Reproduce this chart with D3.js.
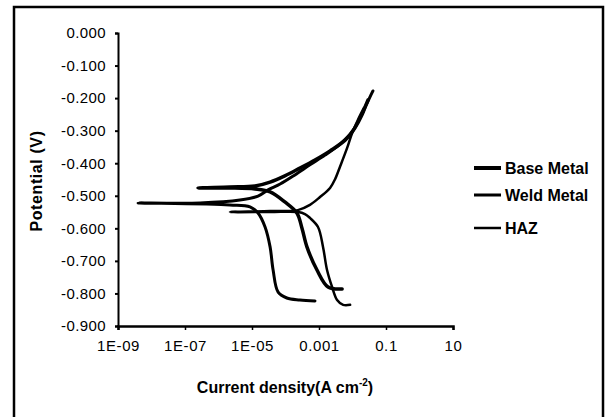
<!DOCTYPE html>
<html><head><meta charset="utf-8">
<script src="https://cdn.jsdelivr.net/npm/d3@7/dist/d3.min.js"></script>
<style>body{margin:0;background:#fff}svg{display:block}</style>
</head><body>
<svg id="c" width="606" height="417"></svg>
<script>
// ---- data (log10 of current density, A cm^-2; potential V) ----
const seriesNames = ["Base Metal", "Weld Metal", "HAZ"];
const baseLogI = [-2.31,-2.73,-3.06,-3.36,-3.51,-3.66,-4.02,-4.46,-4.91,-5.66,-6.61,-5.66,-4.91,-4.46,-4.02,-3.57,-3.12,-2.67,-2.22,-1.93,-1.72,-1.60,-1.54];
const baseE    = [-0.786,-0.780,-0.728,-0.657,-0.599,-0.553,-0.519,-0.488,-0.479,-0.476,-0.476,-0.473,-0.470,-0.458,-0.439,-0.415,-0.390,-0.362,-0.329,-0.292,-0.252,-0.221,-0.206];
const weldLogI = [-3.12,-3.57,-3.96,-4.22,-4.37,-4.46,-4.61,-4.82,-5.06,-5.66,-8.40,-6.55,-5.36,-4.82,-4.52,-4.16,-3.72,-3.27,-2.82,-2.37,-2.01,-1.78,-1.60,-1.48,-1.39];
const weldE    = [-0.823,-0.820,-0.814,-0.796,-0.728,-0.657,-0.596,-0.553,-0.534,-0.528,-0.522,-0.522,-0.513,-0.501,-0.482,-0.464,-0.436,-0.405,-0.375,-0.341,-0.304,-0.261,-0.224,-0.197,-0.178];
const hazLogI  = [-2.07,-2.28,-2.46,-2.61,-2.76,-2.88,-3.03,-3.27,-3.42,-3.63,-4.46,-5.66,-4.46,-3.63,-3.27,-2.97,-2.67,-2.52,-2.37,-2.16,-2.01,-1.84,-1.66];
const hazE     = [-0.835,-0.835,-0.820,-0.780,-0.728,-0.657,-0.596,-0.568,-0.556,-0.550,-0.550,-0.550,-0.547,-0.544,-0.528,-0.504,-0.476,-0.449,-0.410,-0.353,-0.307,-0.267,-0.230];
const yTicks = [0,-0.1,-0.2,-0.3,-0.4,-0.5,-0.6,-0.7,-0.8,-0.9];
const yTickLabels = ["0.000","-0.100","-0.200","-0.300","-0.400","-0.500","-0.600","-0.700","-0.800","-0.900"];
const xTicks = [1e-9,1e-7,1e-5,1e-3,1e-1,10];
const xTickLabels = ["1E-09","1E-07","1E-05","0.001","0.1","10"];

const svg = d3.select("#c");
const font = "'Liberation Sans', Arial, sans-serif";

// outer frame
svg.append("rect").attr("x",14).attr("y",7).attr("width",589).attr("height",420)
  .attr("fill","none").attr("stroke","#000").attr("stroke-width",2.5);

const x = d3.scaleLog().domain([1e-9,10]).range([118,453]);
const y = d3.scaleLinear().domain([-0.9,0]).range([326,33]);

// y axis
const ya = svg.append("g").attr("transform","translate(118,0)")
  .call(d3.axisLeft(y).tickValues(yTicks).tickSize(3).tickPadding(9).tickFormat((d,i)=>yTickLabels[i]));
ya.select(".domain").attr("stroke-width",2);
ya.selectAll("text").attr("font-family",font).attr("font-size",15).attr("letter-spacing",0.4).attr("fill","#000");
ya.selectAll("line").attr("stroke-width",2);

// x axis
const xa = svg.append("g").attr("transform","translate(0,326)")
  .call(d3.axisBottom(x).tickValues(xTicks).tickSize(4).tickPadding(10).tickFormat((d,i)=>xTickLabels[i]));
xa.select(".domain").attr("stroke-width",2.5);
xa.selectAll("text").attr("font-family",font).attr("font-size",15).attr("letter-spacing",0.6).attr("fill","#000");
xa.selectAll("line").attr("stroke-width",1.5);

// axis titles
const xt = svg.append("text").attr("x",285).attr("y",393).attr("text-anchor","middle")
  .attr("font-family",font).attr("font-size",16).attr("font-weight","bold");
xt.append("tspan").text("Current density(A cm");
xt.append("tspan").attr("font-size",10).attr("dy",-7).text("-2");
xt.append("tspan").attr("dy",7).text(")");

svg.append("text").attr("transform","translate(42,181) rotate(-90)").attr("text-anchor","middle")
  .attr("font-family",font).attr("font-size",16).attr("font-weight","bold").attr("letter-spacing",0.6).text("Potential (V)");

// curves
const line = d3.line().x(d=>x(Math.pow(10,d[0]))).y(d=>y(d[1])).curve(d3.curveCatmullRom.alpha(0.5));
const series = [
  {name:seriesNames[0], pts:d3.zip(baseLogI,baseE), w:3.5},
  {name:seriesNames[1], pts:d3.zip(weldLogI,weldE), w:3},
  {name:seriesNames[2], pts:d3.zip(hazLogI,hazE), w:2.5}
];
svg.append("g").selectAll("path").data(series).join("path")
  .attr("d",d=>line(d.pts)).attr("fill","none").attr("stroke","#000")
  .attr("stroke-width",d=>d.w).attr("stroke-linejoin","round").attr("stroke-linecap","round");

// legend
const legY = [168,195,228];
const lg = svg.append("g").selectAll("g").data(series).join("g")
  .attr("transform",(d,i)=>`translate(474,${legY[i]})`);
lg.append("line").attr("x1",0).attr("x2",27).attr("stroke","#000").attr("stroke-width",(d,i)=>[4,3,2.5][i]);
lg.append("text").attr("x",31).attr("dy","0.35em").attr("font-family",font).attr("font-size",16)
  .attr("font-weight","bold").text(d=>d.name);
</script>
</body></html>
